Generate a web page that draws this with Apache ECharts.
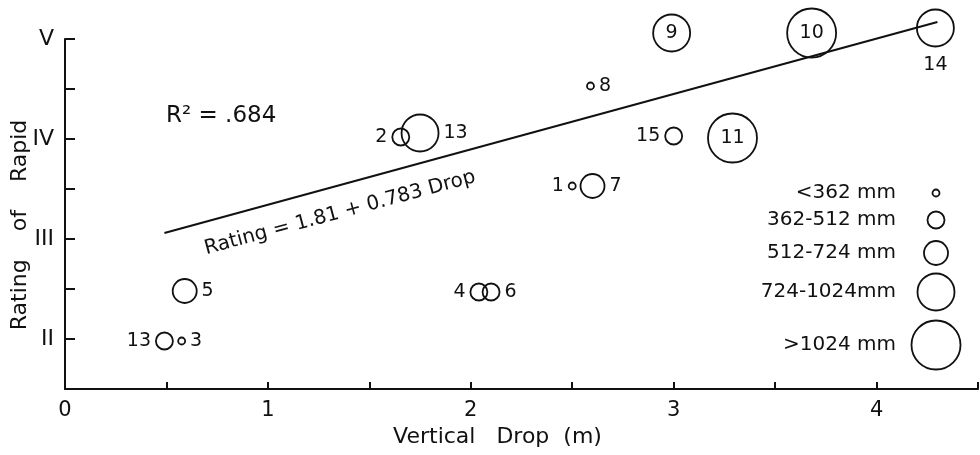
<!DOCTYPE html>
<html><head><meta charset="utf-8">
<script src="https://cdn.jsdelivr.net/npm/echarts@6/dist/echarts.min.js"></script>
<style>html,body{margin:0;padding:0;background:#fff}#c{width:980px;height:455px}</style>
</head><body><div id="c"></div>
<script>
// Rapid ids, vertical drop (m), rating (II=2 ... V=5), bed-material size class, label side
const rapidIds   = ['1','2','3','4','5','6','7','8','9','10','11','13','13','14','15'];
const dropM      = [2.50,1.655,0.575,2.04,0.59,2.10,2.60,2.59,2.99,3.68,3.29,0.49,1.75,4.29,3.00];
const rating     = [3.53,4.02,1.98,2.47,2.48,2.47,3.53,4.53,5.06,5.06,4.01,1.98,4.06,5.11,4.03];
const sizeClass  = [0,1,0,1,2,1,2,0,3,4,4,1,3,3,1];
const labelSide  = ['left','left','right','left','right','right','right','right','inside','inside','inside','left','right','bottom','left'];

// size classes (legend)
const classNames = ['<362 mm','362-512 mm','512-724 mm','724-1024mm','>1024 mm'];
// fitted line endpoints
const fitDrop   = [0.49, 4.30];
const fitRating = [3.06, 5.17];

const xTicks = [0,1,2,3,4];
const yTickLabels = {2:'II',3:'III',4:'IV',5:'V'};

const FONT = 'DejaVu Sans';
const INK = '#111111';
const classSizes = [7,17,24,37,49];
const legendY = [193,220,253,292,345];

const chart = echarts.init(document.getElementById('c'), null, {renderer:'canvas'});

const scatterData = rapidIds.map((id,i)=>({
  name:id,
  value:[dropM[i], rating[i]],
  symbolSize: classSizes[sizeClass[i]],
  label:{position: labelSide[i], distance: labelSide[i]==='bottom' ? 8 : 4}
}));

const graphics = [];
classNames.forEach((n,i)=>{
  graphics.push({type:'circle', shape:{cx:936, cy:legendY[i], r:classSizes[i]/2},
    style:{fill:'none', stroke:INK, lineWidth:1.8}, silent:true});
  graphics.push({type:'text', x:896, y:legendY[i],
    style:{text:n, font:'20px "'+FONT+'"', fill:INK, textAlign:'right', textVerticalAlign:'middle'}});
});
graphics.push({type:'text', x:166, y:116,
  style:{text:'R² = .684', font:'23px "'+FONT+'"', fill:INK, textAlign:'left', textVerticalAlign:'middle'}});
graphics.push({type:'text', x:340, y:213, rotation: 15*Math.PI/180,
  style:{text:'Rating = 1.81 + 0.783 Drop', font:'20px "'+FONT+'"', fill:INK, textAlign:'center', textVerticalAlign:'middle'}});

chart.setOption({
  animation:false,
  backgroundColor:'#fff',
  grid:{left:65, right:2, top:39, bottom:66, containLabel:false, outerBoundsMode:'none'},
  xAxis:{
    type:'value', min:0, max:4.5, interval:0.5,
    name:'Vertical   Drop  (m)', nameLocation:'middle', nameGap:37, nameMoveOverlap:false,
    nameTextStyle:{fontFamily:FONT, fontSize:22, color:INK, padding:[0,48,0,0]},
    axisLine:{show:true, onZero:false, lineStyle:{color:INK, width:2}},
    axisTick:{show:true, inside:true, length:7, lineStyle:{color:INK, width:2}},
    axisLabel:{fontFamily:FONT, fontSize:21, color:INK, margin:11,
      formatter:v=> xTicks.includes(v) ? String(v) : ''},
    splitLine:{show:false}
  },
  yAxis:{
    type:'value', min:1.5, max:5, interval:0.5,
    name:'Rating    of    Rapid', nameLocation:'middle', nameGap:34, nameMoveOverlap:false,
    nameTextStyle:{fontFamily:FONT, fontSize:22, color:INK, padding:[0,22,0,0]},
    axisLine:{show:true, onZero:false, lineStyle:{color:INK, width:2}},
    axisTick:{show:true, inside:true, length:10, lineStyle:{color:INK, width:2}},
    axisLabel:{fontFamily:FONT, fontSize:22, color:INK, margin:11,
      formatter:v=> yTickLabels[v] || ''},
    splitLine:{show:false}
  },
  series:[
    {
      type:'line', data: fitDrop.map((d,i)=>[d, fitRating[i]]), clip:false,
      symbol:'none', lineStyle:{color:INK, width:2}, silent:true, z:1
    },
    {
      type:'scatter', data: scatterData, symbol:'circle', clip:false,
      itemStyle:{color:'rgba(255,255,255,0)', borderColor:INK, borderWidth:1.8, opacity:1},
      label:{show:true, formatter:'{b}', fontFamily:FONT, fontSize:19, color:INK},
      z:2
    }
  ],
  graphic: graphics
});
</script>
</body></html>
